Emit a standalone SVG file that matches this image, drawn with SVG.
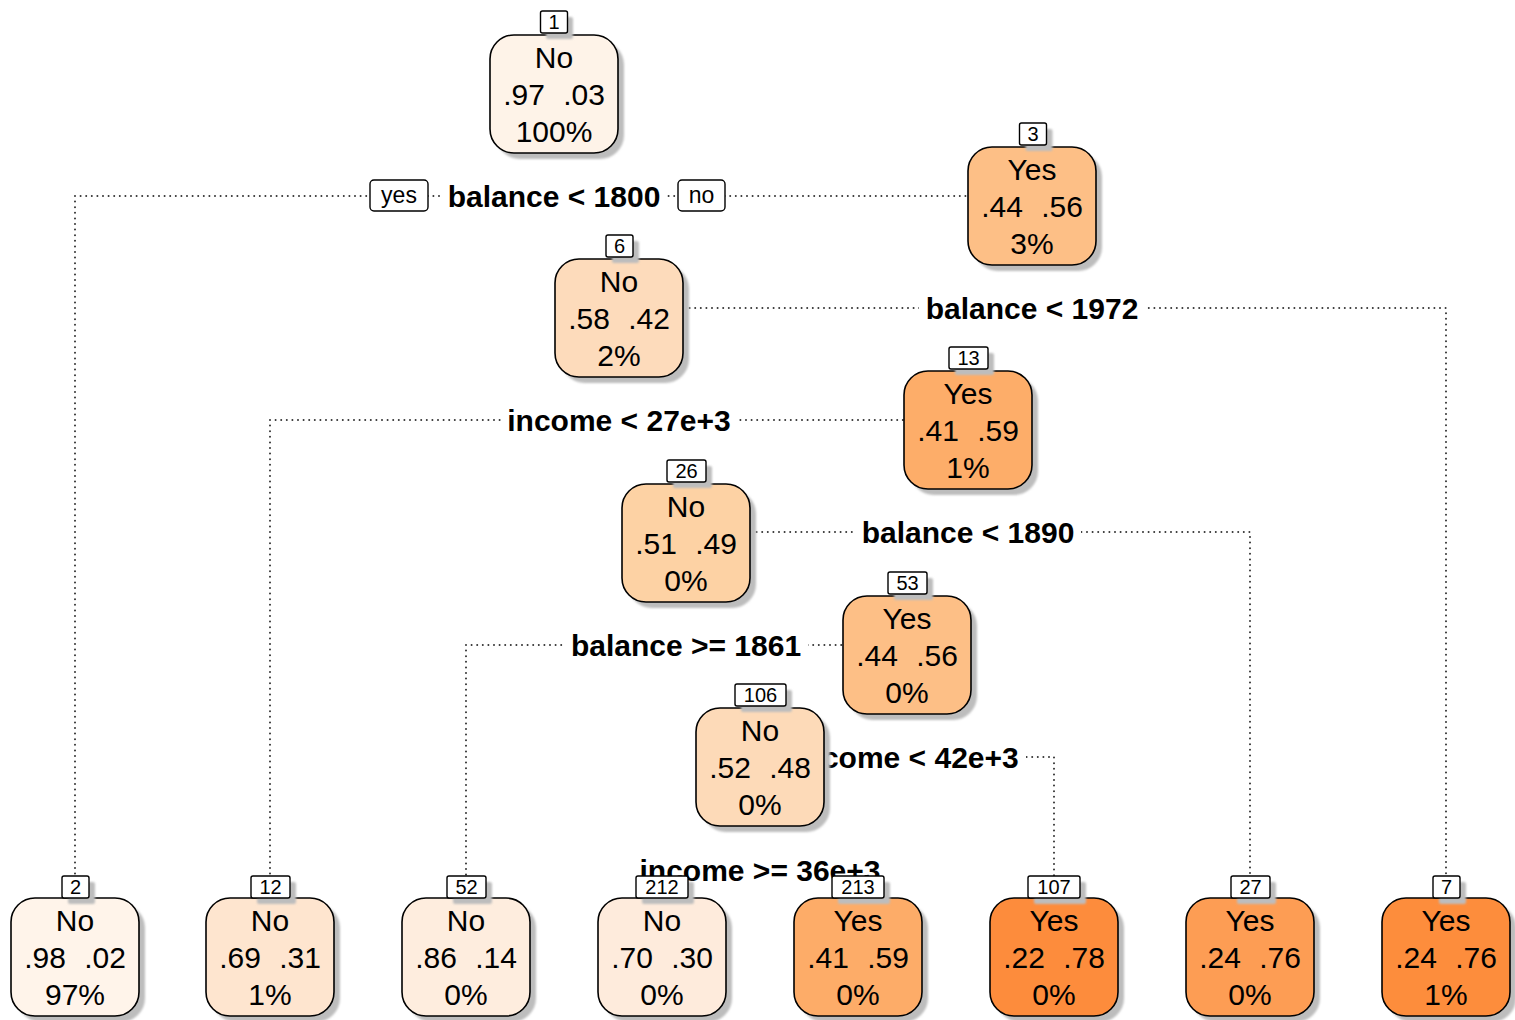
<svg xmlns="http://www.w3.org/2000/svg" width="1515" height="1020" viewBox="0 0 1515 1020">
  <defs>
    <filter id="soft" x="-10%" y="-10%" width="130%" height="130%">
      <feGaussianBlur stdDeviation="1.2"/>
    </filter>
    <style>
      .wire { fill: none; stroke: #333; stroke-width: 2; stroke-dasharray: 0 5.6; stroke-linecap: round; }
      .shadow { fill: #bdbdbd; filter: url(#soft); }
      .box { stroke: #000; stroke-width: 1.6; }
      .tag { fill: #fff; stroke: #000; stroke-width: 1.4; }
      .tagtxt { font-family: "Liberation Sans", Arial, sans-serif; font-size: 20px; text-anchor: middle; fill: #000; }
      .ntxt { font-family: "Liberation Sans", Arial, sans-serif; font-size: 30px; text-anchor: middle; fill: #000; }
      .split { font-family: "Liberation Sans", Arial, sans-serif; font-size: 30px; font-weight: bold; text-anchor: middle; fill: #000; }
      .splitbg { fill: #fff; }
      .yn { fill: #fff; stroke: #000; stroke-width: 1.4; }
      .yntxt { font-family: "Liberation Sans", Arial, sans-serif; font-size: 23px; text-anchor: middle; fill: #000; }
    </style>
  </defs>
  <rect width="1515" height="1020" fill="#fff"/>

  <!-- dotted connectors: horizontal at split label height, then down to the child -->
  <g id="connectors">
    <path class="wire" d="M75 196 H968 M75 196 V876"/>
    <path class="wire" d="M684 308 H1446 V876"/>
    <path class="wire" d="M270 420 H904 M270 420 V876"/>
    <path class="wire" d="M751 532 H1250 V876"/>
    <path class="wire" d="M466 645 H843 M466 645 V876"/>
    <path class="wire" d="M825 757 H1054 V876"/>
    <path class="wire" d="M662 870 H858 M662 870 V876 M858 870 V876"/>
  </g>

  <!-- split labels -->
  <g id="split-labels">
    <rect class="splitbg" x="441" y="180" width="226" height="32"/>
    <text class="split" x="554" y="207">balance &lt; 1800</text>
    <rect class="splitbg" x="919" y="292" width="226" height="32"/>
    <text class="split" x="1032" y="319">balance &lt; 1972</text>
    <rect class="splitbg" x="501" y="404" width="237" height="32"/>
    <text class="split" x="619" y="431">income &lt; 27e+3</text>
    <rect class="splitbg" x="855" y="516" width="226" height="32"/>
    <text class="split" x="968" y="543">balance &lt; 1890</text>
    <rect class="splitbg" x="564" y="629" width="244" height="32"/>
    <text class="split" x="686" y="656">balance &gt;= 1861</text>
    <rect class="splitbg" x="789" y="741" width="237" height="32"/>
    <text class="split" x="907" y="768">income &lt; 42e+3</text>
    <rect class="splitbg" x="632" y="854" width="256" height="32"/>
    <text class="split" x="760" y="881">income &gt;= 36e+3</text>
  </g>

  <g id="yes-no">
    <rect class="yn" x="370" y="180" width="58" height="31" rx="4"/>
    <text class="yntxt" x="399" y="203">yes</text>
    <rect class="yn" x="678" y="180" width="47" height="31" rx="4"/>
    <text class="yntxt" x="701.5" y="203">no</text>
  </g>

  <!-- nodes -->
  <g id="node-1">
    <rect class="shadow" x="496" y="41" width="128" height="118" rx="24"/>
    <rect class="box" x="490" y="35" width="128" height="118" rx="24" fill="#fef3e8"/>
    <rect class="shadow" x="546" y="17" width="27" height="22" rx="2"/>
    <rect class="tag" x="540.5" y="11" width="27" height="22" rx="2"/>
    <text class="tagtxt" x="554" y="29">1</text>
    <text class="ntxt" x="554" y="68">No</text>
    <text class="ntxt" x="524" y="105">.97</text>
    <text class="ntxt" x="584" y="105">.03</text>
    <text class="ntxt" x="554" y="142">100%</text>
  </g>

  <g id="node-3">
    <rect class="shadow" x="974" y="153" width="128" height="118" rx="24"/>
    <rect class="box" x="968" y="147" width="128" height="118" rx="24" fill="#fdbf86"/>
    <rect class="shadow" x="1025.5" y="129" width="27" height="22" rx="2"/>
    <rect class="tag" x="1019.5" y="123" width="27" height="22" rx="2"/>
    <text class="tagtxt" x="1033" y="141">3</text>
    <text class="ntxt" x="1032" y="180">Yes</text>
    <text class="ntxt" x="1002" y="217">.44</text>
    <text class="ntxt" x="1062" y="217">.56</text>
    <text class="ntxt" x="1032" y="254">3%</text>
  </g>

  <g id="node-6">
    <rect class="shadow" x="561" y="265" width="128" height="118" rx="24"/>
    <rect class="box" x="555" y="259" width="128" height="118" rx="24" fill="#fddbbb"/>
    <rect class="shadow" x="612" y="241" width="27" height="22" rx="2"/>
    <rect class="tag" x="606" y="235" width="27" height="22" rx="2"/>
    <text class="tagtxt" x="619.5" y="253">6</text>
    <text class="ntxt" x="619" y="292">No</text>
    <text class="ntxt" x="589" y="329">.58</text>
    <text class="ntxt" x="649" y="329">.42</text>
    <text class="ntxt" x="619" y="366">2%</text>
  </g>

  <g id="node-13">
    <rect class="shadow" x="910" y="377" width="128" height="118" rx="24"/>
    <rect class="box" x="904" y="371" width="128" height="118" rx="24" fill="#fdad69"/>
    <rect class="shadow" x="955" y="353" width="39" height="22" rx="2"/>
    <rect class="tag" x="949" y="347" width="39" height="22" rx="2"/>
    <text class="tagtxt" x="968.5" y="365">13</text>
    <text class="ntxt" x="968" y="404">Yes</text>
    <text class="ntxt" x="938" y="441">.41</text>
    <text class="ntxt" x="998" y="441">.59</text>
    <text class="ntxt" x="968" y="478">1%</text>
  </g>

  <g id="node-26">
    <rect class="shadow" x="628" y="490" width="128" height="118" rx="24"/>
    <rect class="box" x="622" y="484" width="128" height="118" rx="24" fill="#fdd2a4"/>
    <rect class="shadow" x="673" y="466" width="39" height="22" rx="2"/>
    <rect class="tag" x="667" y="460" width="39" height="22" rx="2"/>
    <text class="tagtxt" x="686.5" y="478">26</text>
    <text class="ntxt" x="686" y="517">No</text>
    <text class="ntxt" x="656" y="554">.51</text>
    <text class="ntxt" x="716" y="554">.49</text>
    <text class="ntxt" x="686" y="591">0%</text>
  </g>

  <g id="node-53">
    <rect class="shadow" x="849" y="602" width="128" height="118" rx="24"/>
    <rect class="box" x="843" y="596" width="128" height="118" rx="24" fill="#fdbf86"/>
    <rect class="shadow" x="894" y="578" width="39" height="22" rx="2"/>
    <rect class="tag" x="888" y="572" width="39" height="22" rx="2"/>
    <text class="tagtxt" x="907.5" y="590">53</text>
    <text class="ntxt" x="907" y="629">Yes</text>
    <text class="ntxt" x="877" y="666">.44</text>
    <text class="ntxt" x="937" y="666">.56</text>
    <text class="ntxt" x="907" y="703">0%</text>
  </g>

  <g id="node-106">
    <rect class="shadow" x="702" y="714" width="128" height="118" rx="24"/>
    <rect class="box" x="696" y="708" width="128" height="118" rx="24" fill="#fddab8"/>
    <rect class="shadow" x="741" y="690" width="51" height="22" rx="2"/>
    <rect class="tag" x="735" y="684" width="51" height="22" rx="2"/>
    <text class="tagtxt" x="760.5" y="702">106</text>
    <text class="ntxt" x="760" y="741">No</text>
    <text class="ntxt" x="730" y="778">.52</text>
    <text class="ntxt" x="790" y="778">.48</text>
    <text class="ntxt" x="760" y="815">0%</text>
  </g>

  <!-- leaves -->
  <g id="node-2">
    <rect class="shadow" x="17" y="904" width="128" height="118" rx="24"/>
    <rect class="box" x="11" y="898" width="128" height="118" rx="24" fill="#fff4ea"/>
    <rect class="shadow" x="68" y="882" width="27" height="22" rx="2"/>
    <rect class="tag" x="62" y="876" width="27" height="22" rx="2"/>
    <text class="tagtxt" x="75.5" y="894">2</text>
    <text class="ntxt" x="75" y="931">No</text>
    <text class="ntxt" x="45" y="968">.98</text>
    <text class="ntxt" x="105" y="968">.02</text>
    <text class="ntxt" x="75" y="1005">97%</text>
  </g>

  <g id="node-12">
    <rect class="shadow" x="212" y="904" width="128" height="118" rx="24"/>
    <rect class="box" x="206" y="898" width="128" height="118" rx="24" fill="#fee5cf"/>
    <rect class="shadow" x="257" y="882" width="39" height="22" rx="2"/>
    <rect class="tag" x="251" y="876" width="39" height="22" rx="2"/>
    <text class="tagtxt" x="270.5" y="894">12</text>
    <text class="ntxt" x="270" y="931">No</text>
    <text class="ntxt" x="240" y="968">.69</text>
    <text class="ntxt" x="300" y="968">.31</text>
    <text class="ntxt" x="270" y="1005">1%</text>
  </g>

  <g id="node-52">
    <rect class="shadow" x="408" y="904" width="128" height="118" rx="24"/>
    <rect class="box" x="402" y="898" width="128" height="118" rx="24" fill="#feedde"/>
    <rect class="shadow" x="453" y="882" width="39" height="22" rx="2"/>
    <rect class="tag" x="447" y="876" width="39" height="22" rx="2"/>
    <text class="tagtxt" x="466.5" y="894">52</text>
    <text class="ntxt" x="466" y="931">No</text>
    <text class="ntxt" x="436" y="968">.86</text>
    <text class="ntxt" x="496" y="968">.14</text>
    <text class="ntxt" x="466" y="1005">0%</text>
  </g>

  <g id="node-212">
    <rect class="shadow" x="604" y="904" width="128" height="118" rx="24"/>
    <rect class="box" x="598" y="898" width="128" height="118" rx="24" fill="#feebdc"/>
    <rect class="shadow" x="642" y="882" width="52" height="22" rx="2"/>
    <rect class="tag" x="636" y="876" width="52" height="22" rx="2"/>
    <text class="tagtxt" x="662" y="894">212</text>
    <text class="ntxt" x="662" y="931">No</text>
    <text class="ntxt" x="632" y="968">.70</text>
    <text class="ntxt" x="692" y="968">.30</text>
    <text class="ntxt" x="662" y="1005">0%</text>
  </g>

  <g id="node-213">
    <rect class="shadow" x="800" y="904" width="128" height="118" rx="24"/>
    <rect class="box" x="794" y="898" width="128" height="118" rx="24" fill="#fdac68"/>
    <rect class="shadow" x="838" y="882" width="52" height="22" rx="2"/>
    <rect class="tag" x="832" y="876" width="52" height="22" rx="2"/>
    <text class="tagtxt" x="858" y="894">213</text>
    <text class="ntxt" x="858" y="931">Yes</text>
    <text class="ntxt" x="828" y="968">.41</text>
    <text class="ntxt" x="888" y="968">.59</text>
    <text class="ntxt" x="858" y="1005">0%</text>
  </g>

  <g id="node-107">
    <rect class="shadow" x="996" y="904" width="128" height="118" rx="24"/>
    <rect class="box" x="990" y="898" width="128" height="118" rx="24" fill="#fd8c3c"/>
    <rect class="shadow" x="1034" y="882" width="52" height="22" rx="2"/>
    <rect class="tag" x="1028" y="876" width="52" height="22" rx="2"/>
    <text class="tagtxt" x="1054" y="894">107</text>
    <text class="ntxt" x="1054" y="931">Yes</text>
    <text class="ntxt" x="1024" y="968">.22</text>
    <text class="ntxt" x="1084" y="968">.78</text>
    <text class="ntxt" x="1054" y="1005">0%</text>
  </g>

  <g id="node-27">
    <rect class="shadow" x="1192" y="904" width="128" height="118" rx="24"/>
    <rect class="box" x="1186" y="898" width="128" height="118" rx="24" fill="#fd9d54"/>
    <rect class="shadow" x="1237" y="882" width="39" height="22" rx="2"/>
    <rect class="tag" x="1231" y="876" width="39" height="22" rx="2"/>
    <text class="tagtxt" x="1250.5" y="894">27</text>
    <text class="ntxt" x="1250" y="931">Yes</text>
    <text class="ntxt" x="1220" y="968">.24</text>
    <text class="ntxt" x="1280" y="968">.76</text>
    <text class="ntxt" x="1250" y="1005">0%</text>
  </g>

  <g id="node-7">
    <rect class="shadow" x="1388" y="904" width="128" height="118" rx="24"/>
    <rect class="box" x="1382" y="898" width="128" height="118" rx="24" fill="#fd8d3c"/>
    <rect class="shadow" x="1439" y="882" width="27" height="22" rx="2"/>
    <rect class="tag" x="1433" y="876" width="27" height="22" rx="2"/>
    <text class="tagtxt" x="1446.5" y="894">7</text>
    <text class="ntxt" x="1446" y="931">Yes</text>
    <text class="ntxt" x="1416" y="968">.24</text>
    <text class="ntxt" x="1476" y="968">.76</text>
    <text class="ntxt" x="1446" y="1005">1%</text>
  </g>
</svg>
